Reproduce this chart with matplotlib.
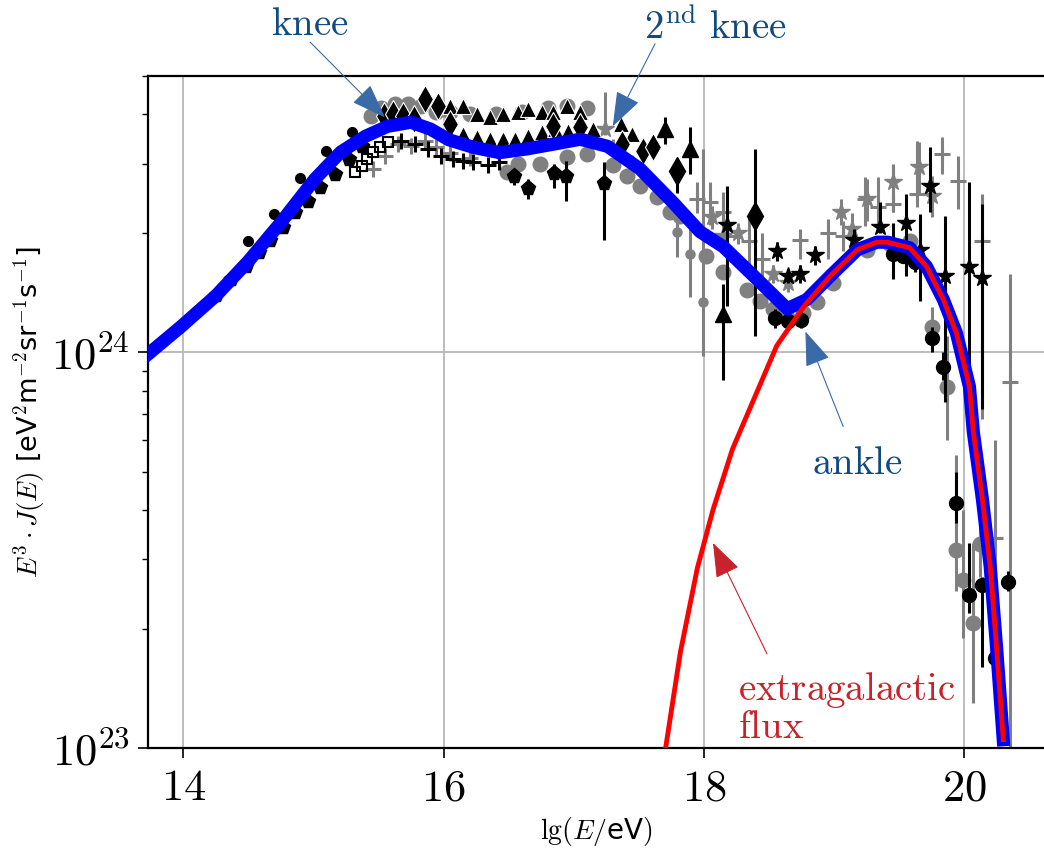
import numpy as np
import matplotlib
matplotlib.use('Agg')
import matplotlib.pyplot as plt
from matplotlib.ticker import NullFormatter, LogLocator

plt.rcParams['mathtext.fontset'] = 'cm'
plt.rcParams['font.family'] = ['DejaVu Sans']

E24 = 1e24  # all fluxes below are in units of 1e24 eV^2 m^-2 sr^-1 s^-1

# model curves
blue_lgE = [13.73, 13.98, 14.25, 14.50, 14.75, 15.01, 15.21, 15.40, 15.57, 15.75, 15.90, 16.04, 16.23,
            16.43, 16.64, 16.84, 17.05, 17.26, 17.51, 17.76, 17.97, 18.15, 18.41, 18.64, 18.79, 18.97,
            19.18, 19.33, 19.41, 19.58, 19.71, 19.84, 19.94, 20.04, 20.07, 20.14, 20.20, 20.25, 20.30]
blue_flux = [0.99, 1.16, 1.39, 1.70, 2.13, 2.74, 3.21, 3.52, 3.73, 3.82, 3.67, 3.45, 3.30,
             3.20, 3.27, 3.36, 3.46, 3.32, 2.91, 2.40, 2.02, 1.85, 1.53, 1.29, 1.36, 1.56,
             1.82, 1.90, 1.90, 1.84, 1.65, 1.36, 1.12, 0.82, 0.63, 0.425, 0.287, 0.177, 0.105]
red_lgE = [17.70, 17.82, 17.95, 18.07, 18.22, 18.56, 18.77, 18.97, 19.18, 19.33, 19.41, 19.58, 19.71,
           19.84, 19.94, 20.04, 20.07, 20.14, 20.20, 20.25, 20.30]
red_flux = [0.097, 0.175, 0.285, 0.40, 0.57, 1.04, 1.31, 1.56, 1.82, 1.90, 1.90, 1.84, 1.65,
            1.36, 1.12, 0.82, 0.63, 0.425, 0.287, 0.177, 0.105]

# measurements
dot_lgE = [14.50, 14.70, 14.90, 15.10, 15.30]
dot_flux = [1.91, 2.24, 2.76, 3.24, 3.61]

pent_lgE = [14.25, 14.37, 14.48, 14.58, 14.67, 14.77, 14.86, 14.96, 15.05, 15.17, 15.27, 15.37]
pent_flux = [1.40, 1.53, 1.65, 1.79, 1.93, 2.08, 2.26, 2.41, 2.62, 2.82, 3.08, 3.32]

pent2_lgE = [16.54, 16.65, 16.85, 16.94, 17.23]
pent2_flux = [2.79, 2.60, 2.84, 2.79, 2.68]
pent2_lo = [2.65, 2.45, 2.60, 2.42, 1.93]
pent2_hi = [2.90, 2.75, 3.00, 3.05, 3.03]

sq_lgE = [15.32, 15.37, 15.41, 15.46, 15.51, 15.57]
sq_flux = [2.86, 2.96, 3.08, 3.21, 3.30, 3.40]

bplus_lgE = [15.67, 15.78, 15.88, 15.98, 16.07, 16.15, 16.23, 16.34, 16.43]
bplus_flux = [3.42, 3.36, 3.27, 3.13, 3.08, 3.05, 3.03, 2.97, 3.03]

gplus_lgE = [15.46, 15.55, 15.65, 15.75, 15.86, 15.94, 16.05, 16.20]
gplus_flux = [2.91, 3.13, 3.36, 3.33, 3.42, 3.30, 3.20, 3.10]

gplus2_lgE = [17.30, 17.45, 17.95, 18.05, 18.15, 18.18, 18.35, 18.45, 18.74, 18.95, 19.07, 19.24,
              19.34, 19.45, 19.64, 19.83, 19.95, 20.14, 20.24, 20.35]
gplus2_flux = [3.30, 3.00, 2.44, 2.40, 2.26, 1.97, 1.91, 1.72, 1.93, 2.01, 1.97, 2.44,
               2.33, 2.37, 2.51, 3.17, 2.71, 1.91, 0.34, 0.84]
gplus2_lo = [3.15, 2.85, 2.25, 2.10, 2.00, 1.75, 1.60, 1.50, 1.72, 1.72, 1.80, 2.09,
             2.05, 2.26, 2.33, 2.82, 2.30, 0.68, 0.15, 0.09]
gplus2_hi = [3.45, 3.15, 2.70, 2.70, 2.55, 2.20, 2.20, 2.00, 2.05, 2.17, 2.15, 2.78,
             2.78, 2.96, 3.42, 3.50, 3.13, 2.51, 0.60, 1.58]

gcirc_lgE = [15.44, 15.52, 15.63, 15.73, 15.83, 15.94, 16.05, 16.20, 16.40, 16.60, 16.80, 16.95, 17.10,
             16.49, 16.57, 16.74, 16.95, 17.10, 17.30, 17.41, 17.51, 17.64, 17.74, 17.82, 18.02, 18.15,
             18.33, 18.43, 18.53, 18.64, 18.76, 18.87, 18.99, 19.25, 19.43, 19.58]
gcirc_flux = [3.95, 4.16, 4.24, 4.24, 4.19, 4.05, 4.05, 4.00, 4.00, 4.05, 4.15, 4.20, 4.15,
              2.86, 2.99, 2.99, 3.12, 3.17, 2.97, 2.79, 2.63, 2.47, 2.27, 2.21, 1.75, 1.60,
              1.44, 1.35, 1.29, 1.23, 1.26, 1.34, 1.50, 1.82, 1.88, 1.91]

gcut_lgE = [19.75, 19.87, 19.94, 19.99, 20.07, 20.12]
gcut_flux = [1.16, 0.82, 0.317, 0.266, 0.207, 0.327]
gcut_lo = [1.05, 0.60, 0.25, 0.19, 0.13, 0.27]
gcut_hi = [1.30, 1.10, 0.55, 0.40, 0.33, 0.40]

bcirc_lgE = [18.55, 18.65, 18.75, 19.45, 19.53, 19.62, 19.75, 19.84, 19.94, 20.04, 20.14, 20.24, 20.34]
bcirc_flux = [1.22, 1.20, 1.21, 1.77, 1.75, 1.69, 1.09, 0.917, 0.417, 0.244, 0.259, 0.169, 0.263]
bcirc_lo = [1.15, 1.14, 1.15, 1.53, 1.68, 1.60, 1.00, 0.85, 0.37, 0.22, 0.16, 0.16, 0.25]
bcirc_hi = [1.29, 1.26, 1.27, 2.13, 1.82, 1.78, 1.16, 1.00, 0.50, 0.33, 0.27, 0.18, 0.28]

bstar_lgE = [18.18, 18.56, 18.65, 18.74, 18.85, 19.15, 19.35, 19.55, 19.66, 19.74, 19.85, 20.04, 20.14]
bstar_flux = [2.10, 1.80, 1.56, 1.58, 1.76, 1.93, 2.07, 2.13, 1.82, 2.63, 1.56, 1.64, 1.54]
bstar_lo = [1.31, 1.70, 1.50, 1.50, 1.66, 1.82, 2.00, 1.56, 1.35, 2.26, 0.75, 0.68, 0.72]
bstar_hi = [2.63, 1.90, 1.63, 1.66, 1.86, 2.05, 2.40, 2.51, 2.24, 3.30, 2.21, 2.70, 2.37]

gstar_lgE = [17.24, 18.06, 18.15, 18.26, 18.53, 18.65, 19.05, 19.14, 19.25, 19.45, 19.65, 19.75]
gstar_flux = [3.67, 2.20, 1.97, 2.00, 1.58, 1.50, 2.26, 2.05, 2.44, 2.69, 2.94, 2.48]
gstar_lo = [3.55, 2.05, 1.85, 1.88, 1.50, 1.42, 2.10, 1.90, 2.15, 2.35, 2.50, 2.20]
gstar_hi = [4.55, 2.35, 2.10, 2.12, 1.66, 1.58, 2.45, 2.25, 2.75, 3.00, 3.40, 2.80]

gsmall_lgE = [17.79, 17.89, 17.99]
gsmall_flux = [2.02, 1.77, 1.34]
gsmall_lo = [1.74, 1.38, 0.98]
gsmall_hi = [2.17, 2.05, 3.27]

tri_up_lgE = [16.05, 16.15, 16.26, 16.36, 16.46, 16.57, 16.65, 16.76, 16.84, 16.95, 17.05]
tri_up_flux = [4.19, 4.19, 4.00, 3.94, 4.00, 4.06, 4.12, 4.06, 4.05, 4.19, 4.06]
tri_lo_lgE = [16.15, 16.26, 16.36, 16.46, 16.55, 16.65, 16.76, 16.86, 16.96, 17.15, 17.36, 17.45]
tri_lo_flux = [3.56, 3.50, 3.46, 3.46, 3.46, 3.53, 3.61, 3.67, 3.63, 3.67, 3.78, 3.56]
tri_err_lgE = [17.70, 17.89, 18.15]
tri_err_flux = [3.67, 3.27, 1.25]
tri_err_lo = [3.36, 2.82, 0.854]
tri_err_hi = [3.93, 3.71, 1.49]

dia_lgE = [15.54, 15.61, 15.69, 15.77, 15.86, 15.96, 16.05, 16.84, 17.05, 17.37, 17.53, 17.61]
dia_flux = [3.97, 4.00, 3.97, 3.89, 4.37, 4.19, 3.78, 3.74, 3.71, 3.36, 3.23, 3.30]
dia_err_lgE = [17.79, 18.39]
dia_err_flux = [2.87, 2.21]
dia_err_lo = [2.53, 1.10]
dia_err_hi = [3.08, 3.27]


def scaled(v):
    return np.asarray(v) * E24


def yerr(flux, lo, hi):
    f = np.asarray(flux)
    return [(f - np.asarray(lo)) * E24, (np.asarray(hi) - f) * E24]


GRAY = '#808080'

fig = plt.figure(figsize=(10.44, 8.48), dpi=100)
ax = fig.add_axes([0.1418, 0.1179, 0.8582, 0.7925])

eb = dict(ls='none', elinewidth=2.2, capsize=0)

# gray data sets
ax.plot(gcirc_lgE, scaled(gcirc_flux), 'o', color=GRAY, ms=10.5, zorder=2)
ax.errorbar(gcut_lgE, scaled(gcut_flux), yerr=yerr(gcut_flux, gcut_lo, gcut_hi), fmt='o',
            color=GRAY, ms=10.5, zorder=2, **eb)
ax.plot(gplus_lgE, scaled(gplus_flux), '+', color=GRAY, ms=11, mew=2.2, zorder=2)
ax.errorbar(gplus2_lgE, scaled(gplus2_flux), yerr=yerr(gplus2_flux, gplus2_lo, gplus2_hi), fmt='+',
            color=GRAY, ms=12, mew=2.2, zorder=2, **eb)
ax.errorbar(gstar_lgE, scaled(gstar_flux), yerr=yerr(gstar_flux, gstar_lo, gstar_hi), fmt='*',
            color=GRAY, ms=13, zorder=2, **eb)
ax.errorbar(gsmall_lgE, scaled(gsmall_flux), yerr=yerr(gsmall_flux, gsmall_lo, gsmall_hi), fmt='o',
            color=GRAY, ms=6.5, zorder=2, **eb)

# black data sets
ax.plot(dot_lgE, scaled(dot_flux), 'o', color='black', ms=7, zorder=3)
ax.plot(pent_lgE, scaled(pent_flux), 'p', color='black', ms=10, zorder=3)
ax.errorbar(pent2_lgE, scaled(pent2_flux), yerr=yerr(pent2_flux, pent2_lo, pent2_hi), fmt='p',
            color='black', ms=11, zorder=3, **eb)
ax.plot(sq_lgE, scaled(sq_flux), 's', color='black', mfc='none', ms=6.5, mew=1.5, zorder=3)
ax.plot(bplus_lgE, scaled(bplus_flux), '+', color='black', ms=11, mew=2.2, zorder=3)
ax.plot(tri_up_lgE, scaled(tri_up_flux), '^', color='black', mec='white', mew=0.8, ms=12, zorder=3)
ax.plot(tri_lo_lgE, scaled(tri_lo_flux), '^', color='black', mec='white', mew=0.8, ms=12, zorder=3)
ax.errorbar(tri_err_lgE, scaled(tri_err_flux), yerr=yerr(tri_err_flux, tri_err_lo, tri_err_hi), fmt='^',
            color='black', ms=12, zorder=3, **eb)
ax.plot(dia_lgE, scaled(dia_flux), 'd', color='black', mec='white', mew=0.8, ms=14, zorder=3)
ax.errorbar(dia_err_lgE, scaled(dia_err_flux), yerr=yerr(dia_err_flux, dia_err_lo, dia_err_hi), fmt='d',
            color='black', ms=14, zorder=3, **eb)
ax.errorbar(bcirc_lgE, scaled(bcirc_flux), yerr=yerr(bcirc_flux, bcirc_lo, bcirc_hi), fmt='o',
            color='black', ms=10, zorder=3, **eb)
ax.errorbar(bstar_lgE, scaled(bstar_flux), yerr=yerr(bstar_flux, bstar_lo, bstar_hi), fmt='*',
            color='black', ms=13, zorder=3, **eb)

# total model and extragalactic component
ax.plot(blue_lgE, scaled(blue_flux), color='#0000ff', lw=9.5, zorder=5)
ax.plot(red_lgE, scaled(red_flux), color='#ff0000', lw=3.5, zorder=6)

ax.set_yscale('log')
ax.set_xlim(13.73, 20.613)
ax.set_ylim(1e23, 5.0e24)
ax.set_xticks([14, 16, 18, 20])
ax.set_xticklabels([r'$14$', r'$16$', r'$18$', r'$20$'])
ax.set_yticks([1e23, 1e24])
ax.set_yticklabels([r'$10^{23}$', r'$10^{24}$'])
ax.yaxis.set_minor_locator(LogLocator(base=10, subs=np.arange(2, 10)))
ax.yaxis.set_minor_formatter(NullFormatter())
ax.tick_params(which='major', direction='out', length=7, width=1.2, labelsize=32, pad=6)
ax.tick_params(which='minor', direction='out', length=4.5, width=1.0)
ax.grid(True, which='major', color='#b8b8b8', lw=1.3, zorder=0)
ax.set_axisbelow(True)
for side in ['left', 'top', 'bottom']:
    ax.spines[side].set_linewidth(1.6)
ax.spines['right'].set_visible(False)

ax.set_ylabel(r'$E^3\cdot J(E)$ [eV$^2$m$^{-2}$sr$^{-1}$s$^{-1}$]', fontsize=19.5)
ax.yaxis.set_label_coords(-0.112, 0.5)
ax.set_xlabel(r'$\mathrm{lg}(E/$eV$)$', fontsize=20)
ax.xaxis.set_label_coords(0.5, -0.1)

# feature labels
BLUE_TXT = '#0f4a84'
BLUE_ARR = '#3a6aa8'
RED_TXT = '#c8232c'


def arrow(tail, head, color):
    ax.annotate('', xy=(head[0], head[1] * E24), xytext=(tail[0], tail[1] * E24),
                arrowprops=dict(arrowstyle='-|>,head_length=1.1,head_width=0.4', color=color,
                                lw=0.8, mutation_scale=20, shrinkA=0, shrinkB=0),
                annotation_clip=False, zorder=7)


ax.text(14.97, 6.76 * E24, r'$\mathrm{knee}$', color=BLUE_TXT, fontsize=28, ha='center', va='center')
arrow((14.975, 6.09), (15.55, 3.93), BLUE_ARR)
ax.text(18.09, 6.65 * E24, r'$\mathrm{2^{nd}\ knee}$', color=BLUE_TXT, fontsize=28, ha='center',
        va='center')
arrow((17.625, 6.03), (17.30, 3.73), BLUE_ARR)
ax.text(19.18, 0.526 * E24, r'$\mathrm{ankle}$', color=BLUE_TXT, fontsize=28, ha='center', va='center',
        zorder=7)
arrow((19.07, 0.650), (18.78, 1.13), BLUE_ARR)
ax.text(18.26, 0.1323 * E24, r'$\mathrm{extragalactic}$', color=RED_TXT, fontsize=28, ha='left',
        va='baseline', zorder=7)
ax.text(18.26, 0.106 * E24, r'$\mathrm{flux}$', color=RED_TXT, fontsize=28, ha='left', va='baseline',
        zorder=7)
arrow((18.485, 0.173), (18.07, 0.330), RED_TXT)

fig.savefig('out.png', dpi=100)
